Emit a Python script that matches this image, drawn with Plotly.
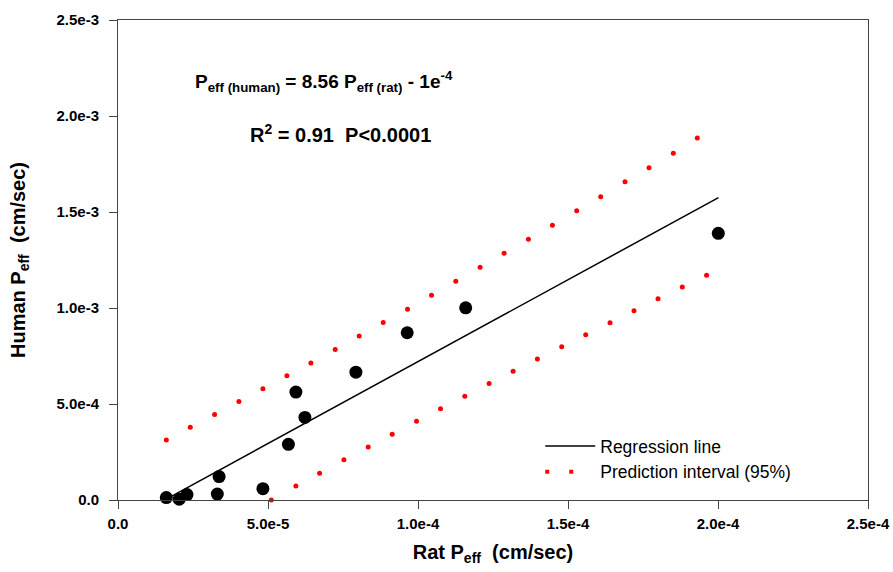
import plotly.graph_objects as go

# ---- data ----
rat_peff = [1.61e-5, 2.04e-5, 2.30e-5, 3.31e-5, 3.37e-5, 4.83e-5, 5.68e-5,
            5.93e-5, 6.23e-5, 7.93e-5, 9.64e-5, 1.159e-4, 2.001e-4]
human_peff = [1.25e-5, 4.0e-6, 2.8e-5, 3.1e-5, 1.22e-4, 5.9e-5, 2.90e-4,
              5.62e-4, 4.30e-4, 6.66e-4, 8.71e-4, 1.001e-3, 1.389e-3]

reg_x = [1.61e-5, 2.0016e-4]
reg_y = [5.0e-6, 1.575e-3]

upper_x = [1.61e-5, 2.41e-5, 3.22e-5, 4.03e-5, 4.83e-5, 5.63e-5, 6.43e-5, 7.24e-5,
           8.04e-5, 8.84e-5, 9.65e-5, 1.045e-4, 1.126e-4, 1.207e-4, 1.287e-4,
           1.368e-4, 1.448e-4, 1.529e-4, 1.609e-4, 1.690e-4, 1.770e-4, 1.851e-4, 1.931e-4]
upper_y = [0.313e-3, 0.379e-3, 0.445e-3, 0.513e-3, 0.579e-3, 0.647e-3, 0.714e-3, 0.784e-3,
           0.854e-3, 0.925e-3, 0.994e-3, 1.066e-3, 1.139e-3, 1.212e-3, 1.285e-3,
           1.358e-3, 1.431e-3, 1.506e-3, 1.580e-3, 1.657e-3, 1.731e-3, 1.806e-3, 1.885e-3]

lower_x = [5.11e-5, 5.93e-5, 6.72e-5, 7.53e-5, 8.34e-5, 9.14e-5, 9.95e-5, 1.075e-4,
           1.156e-4, 1.237e-4, 1.317e-4, 1.398e-4, 1.479e-4, 1.559e-4, 1.640e-4,
           1.720e-4, 1.800e-4, 1.881e-4, 1.962e-4]
lower_y = [0.0, 0.073e-3, 0.139e-3, 0.209e-3, 0.276e-3, 0.343e-3, 0.410e-3, 0.475e-3,
           0.541e-3, 0.607e-3, 0.671e-3, 0.734e-3, 0.798e-3, 0.861e-3, 0.923e-3,
           0.986e-3, 1.048e-3, 1.109e-3, 1.170e-3]

x_tickvals = [0.0, 5.0e-5, 1.0e-4, 1.5e-4, 2.0e-4, 2.5e-4]
x_ticktext = ["0.0", "5.0e-5", "1.0e-4", "1.5e-4", "2.0e-4", "2.5e-4"]
y_tickvals = [0.0, 5.0e-4, 1.0e-3, 1.5e-3, 2.0e-3, 2.5e-3]
y_ticktext = ["0.0", "5.0e-4", "1.0e-3", "1.5e-3", "2.0e-3", "2.5e-3"]

FONT = "Liberation Sans, Arial, sans-serif"
AXC = "#444444"
RED = "#ff0000"

fig = go.Figure()

fig.add_trace(go.Scatter(
    x=rat_peff, y=human_peff, mode="markers",
    marker=dict(color="black", size=13, line=dict(width=0)),
    showlegend=False, cliponaxis=False))

fig.add_trace(go.Scatter(
    x=reg_x, y=reg_y, mode="lines", name="Regression line",
    line=dict(color="black", width=1.5)))

fig.add_trace(go.Scatter(
    x=upper_x, y=upper_y, mode="markers", name="Prediction interval (95%)",
    marker=dict(color=RED, size=5), legendgroup="pi", showlegend=False,
    cliponaxis=False))

fig.add_trace(go.Scatter(
    x=lower_x, y=lower_y, mode="markers", name="Prediction interval (95%)",
    marker=dict(color=RED, size=5), legendgroup="pi", showlegend=False,
    cliponaxis=False))

# legend entry only (two-dot sample, as in the original legend)
fig.add_trace(go.Scatter(
    x=[None], y=[None], mode="lines", name="Prediction interval (95%)",
    line=dict(color=RED, width=4, dash="4px,20px,4px,200px"), legendgroup="pi"))

fig.add_annotation(
    x=2.5e-5, y=2.18e-3, xref="x", yref="y", xanchor="left", yanchor="middle",
    text="<b>P<sub>eff (human)</sub> = 8.56 P<sub>eff (rat)</sub> - 1e<sup>-4</sup></b>",
    showarrow=False, font=dict(family=FONT, size=19, color="black"))

fig.add_annotation(
    x=4.33e-5, y=1.91e-3, xref="x", yref="y", xanchor="left", yanchor="middle",
    text="<b>R<sup>2</sup> = 0.91  P&lt;0.0001</b>",
    showarrow=False, font=dict(family=FONT, size=20, color="black"))

axis_common = dict(
    showline=True, linecolor=AXC, linewidth=1, mirror=True,
    showgrid=False, zeroline=False, automargin=False,
    ticks="outside", ticklen=8, tickcolor=AXC, tickwidth=1,
    tickfont=dict(family=FONT, size=15, color="black", weight="bold"),
)

fig.update_xaxes(
    range=[0, 2.5e-4], tickvals=x_tickvals, ticktext=x_ticktext,
    ticklabelstandoff=2,
    title=dict(text="<b>Rat P<sub>eff</sub>  (cm/sec)</b>",
               font=dict(family=FONT, size=20, color="black"), standoff=13),
    **axis_common)

fig.update_yaxes(
    range=[0, 2.5e-3], tickvals=y_tickvals, ticktext=y_ticktext,
    ticklabelstandoff=7,
    title=dict(text="<b>Human P<sub>eff</sub>  (cm/sec)</b>",
               font=dict(family=FONT, size=20, color="black"), standoff=25),
    **axis_common)

fig.update_layout(
    width=893, height=572,
    margin=dict(l=118, r=25, t=20, b=72),
    plot_bgcolor="white", paper_bgcolor="white",
    font=dict(family=FONT),
    legend=dict(x=0.563, y=0.15, xanchor="left", yanchor="top",
                bgcolor="rgba(0,0,0,0)", font=dict(family=FONT, size=17.5, color="black"),
                tracegroupgap=0, itemwidth=50),
)

fig.write_html("out.html", config={"displayModeBar": False},
               post_script="document.body.style.margin='0';")
